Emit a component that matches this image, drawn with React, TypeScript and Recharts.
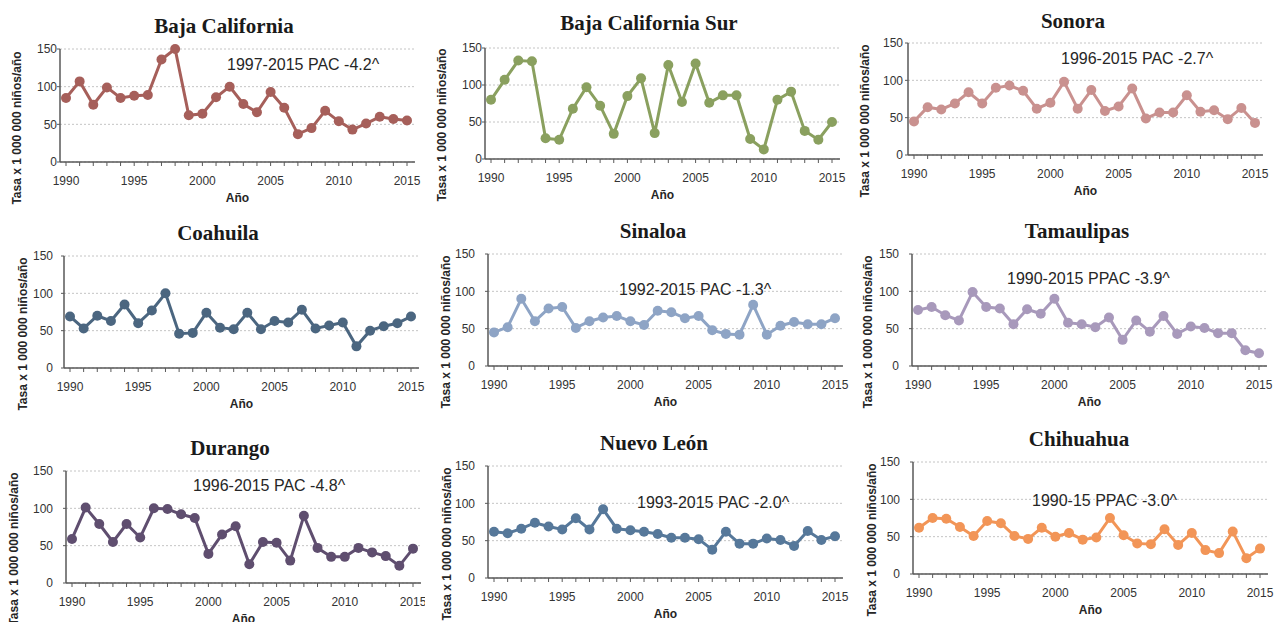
import { LineChart, Line, XAxis, YAxis, CartesianGrid } from 'recharts';

const years = [
  1990, 1991, 1992, 1993, 1994, 1995, 1996, 1997, 1998, 1999, 2000, 2001, 2002,
  2003, 2004, 2005, 2006, 2007, 2008, 2009, 2010, 2011, 2012, 2013, 2014, 2015,
];
const yTicks = [0, 50, 100, 150];

const bajaCalifornia = [85, 107, 76, 99, 85, 88, 89, 136, 150, 62, 64, 86, 100, 77, 66, 93, 72, 37, 45, 68, 54, 43, 51, 60, 57, 55];
const bajaCaliforniaSur = [80, 107, 133, 132, 28, 26, 68, 97, 72, 34, 85, 109, 35, 127, 77, 129, 76, 86, 86, 27, 13, 80, 91, 38, 26, 50];
const sonora = [45, 64, 61, 69, 84, 69, 90, 93, 86, 62, 70, 98, 62, 87, 59, 65, 89, 49, 57, 57, 80, 58, 60, 48, 63, 43];
const coahuila = [69, 53, 70, 63, 85, 60, 77, 100, 46, 47, 74, 54, 52, 74, 52, 63, 61, 78, 53, 57, 61, 29, 50, 56, 60, 69];
const sinaloa = [45, 52, 90, 60, 77, 79, 51, 60, 65, 67, 60, 55, 74, 72, 64, 67, 48, 43, 42, 82, 42, 54, 59, 56, 56, 64];
const tamaulipas = [75, 79, 68, 61, 99, 79, 77, 56, 76, 70, 90, 58, 56, 52, 65, 35, 61, 46, 67, 43, 53, 51, 44, 44, 21, 17];
const durango = [59, 101, 79, 55, 79, 61, 100, 99, 92, 87, 39, 65, 76, 25, 55, 54, 30, 90, 47, 35, 35, 47, 41, 36, 23, 46];
const nuevoLeon = [62, 60, 66, 74, 69, 65, 80, 65, 92, 66, 64, 62, 59, 54, 54, 52, 38, 62, 46, 46, 53, 51, 43, 63, 51, 56];
const chihuahua = [62, 75, 74, 63, 51, 71, 68, 51, 47, 62, 50, 55, 46, 49, 75, 52, 41, 40, 60, 39, 55, 32, 28, 57, 21, 34];

const stateNames = [
  'Baja California', 'Baja California Sur', 'Sonora',
  'Coahuila', 'Sinaloa', 'Tamaulipas',
  'Durango', 'Nuevo León', 'Chihuahua',
];
const stateValues = [
  bajaCalifornia, bajaCaliforniaSur, sonora,
  coahuila, sinaloa, tamaulipas,
  durango, nuevoLeon, chihuahua,
];
const trendNotes = [
  '1997-2015 PAC -4.2^', '', '1996-2015 PAC -2.7^',
  '', '1992-2015 PAC -1.3^', '1990-2015 PPAC -3.9^',
  '1996-2015 PAC -4.8^', '1993-2015 PAC -2.0^', '1990-15 PPAC -3.0^',
];

const colors = [
  '#a65f5a', '#8aa05f', '#c9918f',
  '#4b6680', '#8ea4c5', '#a899bb',
  '#5f4e6f', '#56789a', '#f29557',
];

// plot frame of each small chart, in px inside its 425x210 cell
const frames = [
  { left: 60, top: 49, bottom: 162, yGap: 3, yLabelX: 17, titleX: 224, titleY: 26, noteX: 227, noteY: 65 },
  { left: 60, top: 48, bottom: 159, yGap: 3, yLabelX: 17, titleX: 224, titleY: 23, noteX: 0, noteY: 0 },
  { left: 58, top: 43, bottom: 155, yGap: 5, yLabelX: 15, titleX: 223, titleY: 21, noteX: 211, noteY: 59 },
  { left: 64, top: 46, bottom: 158, yGap: 11, yLabelX: 23, titleX: 218, titleY: 23, noteX: 0, noteY: 0 },
  { left: 63, top: 44, bottom: 156, yGap: 13, yLabelX: 21, titleX: 228, titleY: 21, noteX: 194, noteY: 80 },
  { left: 62, top: 44, bottom: 156, yGap: 13, yLabelX: 18, titleX: 227, titleY: 21, noteX: 157, noteY: 69 },
  { left: 66, top: 51, bottom: 163, yGap: 13, yLabelX: 14, titleX: 230, titleY: 28, noteX: 193, noteY: 66 },
  { left: 63, top: 46, bottom: 158, yGap: 13, yLabelX: 22, titleX: 229, titleY: 23, noteX: 212, noteY: 83 },
  { left: 63, top: 42, bottom: 154, yGap: 13, yLabelX: 22, titleX: 229, titleY: 19, noteX: 182, noteY: 81 },
];

const CELL_W = 425;
const CELL_H = 210;
const PLOT_W = 355;
const Y_AXIS_W = 40;
const X_AXIS_H = 30;
const SANS = '"Liberation Sans", Arial, sans-serif';
const AXIS_COLOR = '#595959';
const TICK_STYLE = { fontSize: 12, fill: '#333333', fontFamily: SANS };

type Frame = (typeof frames)[number];

interface PanelProps {
  name: string;
  values: number[];
  note: string;
  color: string;
  frame: Frame;
  index: number;
}

function StatePanel({ name, values, note, color, frame, index }: PanelProps) {
  const data = years.map((year, i) => ({ year, value: values[i] }));
  const col = index % 3;
  const row = Math.floor(index / 3);

  return (
    <div
      style={{
        position: 'absolute',
        left: col * CELL_W,
        top: row * CELL_H,
        width: CELL_W,
        height: CELL_H,
      }}
    >
      <LineChart
        width={CELL_W}
        height={CELL_H}
        data={data}
        margin={{
          top: frame.top,
          left: frame.left - Y_AXIS_W,
          right: CELL_W - frame.left - PLOT_W,
          bottom: CELL_H - frame.bottom - X_AXIS_H,
        }}
      >
        <CartesianGrid vertical={false} stroke="#c4c4c4" strokeDasharray="2 2" />
        <XAxis
          dataKey="year"
          type="number"
          domain={[1990, 2015]}
          ticks={years}
          interval={0}
          tickFormatter={(v: number) => (v % 5 === 0 ? String(v) : '')}
          padding={{ left: 6, right: 8 }}
          height={X_AXIS_H}
          axisLine={{ stroke: AXIS_COLOR, strokeWidth: 1.5 }}
          tickLine={{ stroke: AXIS_COLOR }}
          tickSize={4}
          tickMargin={10}
          tick={TICK_STYLE}
        />
        <YAxis
          type="number"
          domain={[0, 150]}
          ticks={yTicks}
          interval={0}
          width={Y_AXIS_W}
          axisLine={{ stroke: AXIS_COLOR, strokeWidth: 1.5 }}
          tickLine={{ stroke: AXIS_COLOR }}
          tickSize={3}
          tickMargin={Math.max(frame.yGap - 3, 0)}
          tick={TICK_STYLE}
        />
        <Line
          type="linear"
          dataKey="value"
          stroke={color}
          strokeWidth={3}
          dot={{ r: 5, fill: color, stroke: color, strokeWidth: 0 }}
          activeDot={false}
          isAnimationActive={false}
        />
      </LineChart>

      <div
        style={{
          position: 'absolute',
          left: frame.titleX,
          top: frame.titleY,
          transform: 'translate(-50%, -50%)',
          fontFamily: '"Liberation Serif", "Times New Roman", serif',
          fontWeight: 700,
          fontSize: 21,
          lineHeight: 1,
          color: '#1a1a1a',
          whiteSpace: 'nowrap',
        }}
      >
        {name}
      </div>

      {note && (
        <div
          style={{
            position: 'absolute',
            left: frame.noteX,
            top: frame.noteY,
            transform: 'translateY(-50%)',
            fontFamily: SANS,
            fontSize: 16,
            lineHeight: 1,
            color: '#262626',
            whiteSpace: 'nowrap',
          }}
        >
          {note}
        </div>
      )}

      <div
        style={{
          position: 'absolute',
          left: frame.yLabelX,
          top: frame.bottom - 34,
          transform: 'translate(-50%, -50%) rotate(-90deg)',
          fontFamily: SANS,
          fontWeight: 700,
          fontSize: 12,
          lineHeight: 1,
          color: '#262626',
          whiteSpace: 'nowrap',
        }}
      >
        Tasa x 1 000 000 niños/año
      </div>

      <div
        style={{
          position: 'absolute',
          left: frame.left + PLOT_W / 2,
          top: frame.bottom + 36,
          transform: 'translate(-50%, -50%)',
          fontFamily: SANS,
          fontWeight: 700,
          fontSize: 12,
          lineHeight: 1,
          color: '#262626',
          whiteSpace: 'nowrap',
        }}
      >
        Año
      </div>
    </div>
  );
}

export default function App() {
  return (
    <div
      style={{
        position: 'absolute',
        left: 0,
        top: 0,
        width: 1275,
        height: 622,
        overflow: 'hidden',
        background: '#ffffff',
      }}
    >
      {stateNames.map((name, i) => (
        <StatePanel
          key={name}
          name={name}
          values={stateValues[i]}
          note={trendNotes[i]}
          color={colors[i]}
          frame={frames[i]}
          index={i}
        />
      ))}
    </div>
  );
}
